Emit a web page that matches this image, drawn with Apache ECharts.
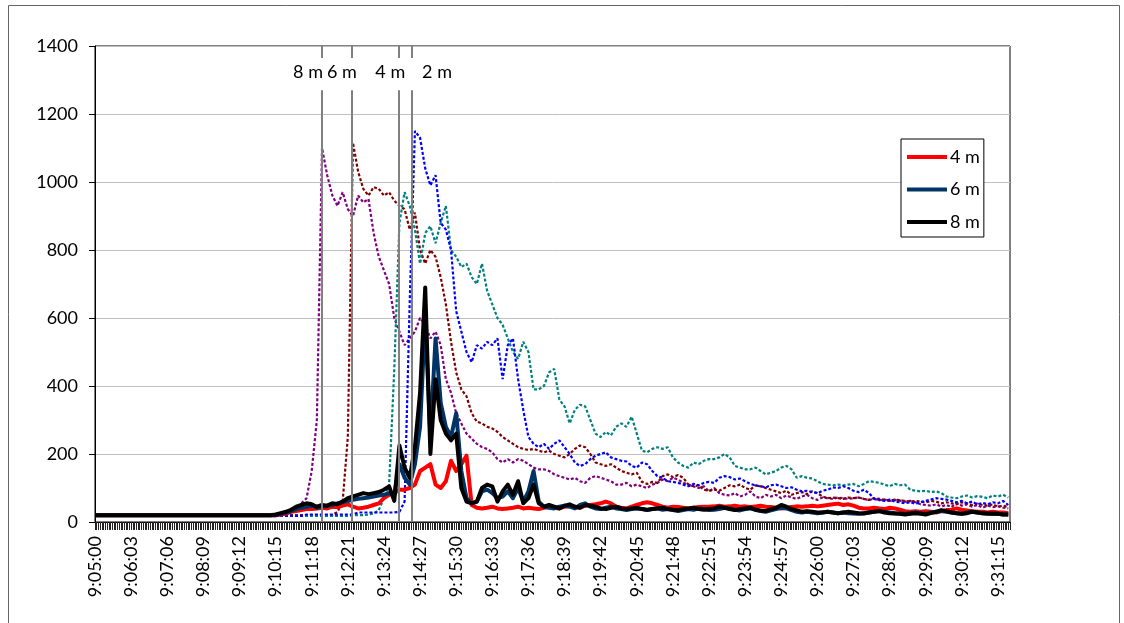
<!DOCTYPE html>
<html>
<head>
<meta charset="utf-8">
<title>Traces 2 m - 8 m</title>
<script src="https://cdn.jsdelivr.net/npm/echarts@6/dist/echarts.min.js"></script>
<style>
  html, body { margin: 0; padding: 0; background: #fff; }
  #chart { width: 1124px; height: 623px; }
</style>
</head>
<body>
<div id="chart"></div>
<script>
// sample times, seconds after 9:05:00, one every 9 s
const STEP = 9
const secs = Array.from({ length: 178 }, (_, i) => i * STEP)
const END_SEC = 1596
const LABEL_EVERY = 63

// dotted traces (not in legend)
const dot8 = [
  18, 18, 18, 18, 18, 18, 18, 18, 18, 18,
  18, 18, 18, 18, 18, 18, 18, 18, 18, 18,
  18, 18, 18, 18, 18, 18, 18, 18, 18, 18,
  18, 18, 18, 18, 18, 20, 22, 25, 30, 40,
  55, 70, 150, 300, 1100, 1020, 960, 930, 970, 920,
  900, 960, 940, 950, 850, 780, 740, 700, 600, 560,
  520, 540, 560, 600, 580, 540, 560, 520, 420, 380,
  320, 290, 260, 245, 230, 220, 215, 205, 185, 175,
  185, 175, 185, 180, 170, 160, 155, 155, 150, 140,
  135, 130, 125, 130, 120, 115, 130, 135, 130, 125,
  120, 110, 110, 115, 105, 110, 105, 100, 110, 115,
  125, 120, 130, 125, 115, 110, 105, 100, 105, 90,
  100, 85, 80, 78, 85, 75, 80, 90, 75, 70,
  80, 75, 80, 70, 78, 72, 68, 75, 80, 70,
  65, 72, 70, 68, 72, 70, 68, 70, 72, 68,
  65, 68, 64, 66, 62, 65, 63, 60, 62, 58,
  52, 50, 48, 52, 46, 50, 44, 55, 48, 52,
  45, 50, 42, 48, 44, 46, 42, 40
]
const dot6 = [
  18, 18, 18, 18, 18, 18, 18, 18, 18, 18,
  18, 18, 18, 18, 18, 18, 18, 18, 18, 18,
  18, 18, 18, 18, 18, 18, 18, 18, 18, 18,
  18, 18, 18, 18, 18, 18, 20, 20, 20, 20,
  20, 20, 20, 20, 20, 20, 20, 30, 60, 250,
  1115, 1030, 980, 960, 985, 980, 960, 970, 945, 930,
  920, 860, 910, 800, 760, 800, 780, 720, 640, 530,
  440, 390, 370, 320, 295, 290, 280, 275, 265, 250,
  240, 230, 220, 215, 212, 215, 210, 205, 210, 200,
  195, 190, 200, 215, 225, 220, 200, 175, 170, 165,
  170, 160, 150, 145, 140, 145, 118, 112, 118, 115,
  135, 140, 132, 138, 130, 110, 105, 108, 95, 92,
  95, 92, 100, 108, 105, 110, 100, 95, 108, 105,
  100, 95, 90, 85, 92, 80, 85, 88, 82, 90,
  85, 75, 70, 72, 70, 68, 72, 70, 72, 68,
  65, 70, 68, 65, 62, 66, 64, 62, 60, 62,
  60, 58, 62, 60, 55, 58, 55, 52, 58, 55,
  50, 54, 50, 48, 52, 45, 48, 44
]
const dot4 = [
  18, 18, 18, 18, 18, 18, 18, 18, 18, 18,
  18, 18, 18, 18, 18, 18, 18, 18, 18, 18,
  18, 18, 18, 18, 18, 18, 18, 18, 18, 18,
  18, 18, 18, 18, 18, 18, 18, 18, 18, 18,
  18, 18, 18, 18, 18, 18, 18, 18, 18, 18,
  20, 20, 20, 22, 25, 35, 70, 110, 450, 880,
  970, 930, 860, 760, 850, 870, 820, 880, 930, 800,
  780, 750, 760, 720, 700, 760, 680, 640, 600, 580,
  540, 500, 480, 530, 500, 390, 390, 400, 440, 450,
  360, 340, 290, 330, 345, 340, 300, 260, 250, 265,
  255, 280, 290, 280, 310, 260, 210, 205, 215, 220,
  215, 220, 190, 175, 165, 160, 175, 170, 180, 185,
  185, 190, 200, 190, 165, 160, 155, 155, 160, 150,
  140, 145, 150, 160, 165, 155, 130, 135, 130, 128,
  120, 112, 110, 108, 110, 108, 110, 112, 105, 112,
  120, 118, 115, 110, 105, 112, 108, 110, 95, 92,
  90, 92, 88, 90, 85, 75, 72, 70, 75, 78,
  72, 76, 74, 70, 78, 75, 80, 72
]
const dot2 = [
  18, 18, 18, 18, 18, 18, 18, 18, 18, 18,
  18, 18, 18, 18, 18, 18, 18, 18, 18, 18,
  18, 18, 18, 18, 18, 18, 18, 18, 18, 18,
  18, 18, 18, 18, 18, 18, 18, 18, 18, 18,
  18, 22, 22, 22, 22, 22, 22, 22, 22, 22,
  22, 28, 28, 28, 28, 28, 28, 28, 28, 30,
  60, 650, 1150, 1130, 1040, 990, 1020, 880, 860, 800,
  620, 560, 500, 470, 520, 510, 530, 520, 540, 420,
  520, 540, 420, 330, 250, 230, 220, 230, 215, 230,
  240, 220, 200, 175, 165, 170, 185, 195, 200, 205,
  190, 185, 180, 178, 165, 160, 175, 170, 150, 135,
  130, 120, 118, 115, 110, 105, 112, 108, 115, 118,
  115, 130, 135, 132, 125, 128, 120, 112, 108, 105,
  102, 108, 110, 105, 100, 102, 95, 90, 92, 88,
  85, 92, 95, 102, 100, 105, 100, 92, 88, 95,
  85, 68, 65, 62, 66, 60, 58, 55, 58, 54,
  58, 62, 66, 70, 68, 66, 62, 58, 62, 55,
  60, 52, 56, 52, 58, 55, 62, 50
]

// solid traces (legend)
const red4 = [
  20, 20, 20, 20, 20, 20, 20, 20, 20, 20,
  20, 20, 20, 20, 20, 20, 20, 20, 20, 20,
  20, 20, 20, 20, 20, 20, 20, 20, 20, 20,
  20, 20, 20, 20, 20, 20, 22, 25, 30, 32,
  35, 38, 38, 40, 42, 40, 45, 44, 48, 52,
  45, 40, 42, 45, 50, 55, 70, 80, 85, 95,
  95, 100, 110, 150, 160, 170, 110, 100, 120, 180,
  150, 170, 195, 50, 42, 40, 42, 45, 40, 38,
  40, 42, 45, 40, 42, 40, 38, 42, 45, 42,
  40, 45, 48, 45, 42, 48, 50, 52, 55, 60,
  55, 45, 42, 40, 45, 50, 55, 58, 55, 50,
  45, 42, 45, 44, 42, 40, 42, 44, 45, 45,
  46, 48, 45, 46, 48, 45, 46, 44, 46, 48,
  45, 44, 42, 40, 42, 44, 46, 45, 46, 48,
  46, 48, 50, 52, 54, 50, 52, 48, 42, 40,
  40, 42, 40, 38, 42, 40, 36, 32, 30, 32,
  30, 32, 30, 28, 32, 35, 36, 40, 36, 34,
  32, 30, 30, 28, 30, 28, 28, 26
]
const navy6 = [
  20, 20, 20, 20, 20, 20, 20, 20, 20, 20,
  20, 20, 20, 20, 20, 20, 20, 20, 20, 20,
  20, 20, 20, 20, 20, 20, 20, 20, 20, 20,
  20, 20, 20, 20, 20, 20, 24, 28, 32, 38,
  42, 45, 48, 42, 45, 48, 50, 55, 58, 62,
  65, 68, 70, 72, 75, 78, 80, 85, 80, 170,
  130, 110, 170, 280, 600, 250, 540, 350, 280, 250,
  320, 150, 70, 55, 60, 90, 95, 85, 70, 75,
  90, 70, 100, 60, 90, 150, 60, 45, 42, 40,
  45, 48, 45, 40, 50, 55, 45, 40, 38, 42,
  45, 40, 38, 35, 38, 40, 38, 35, 38, 40,
  36, 38, 35, 32, 35, 38, 36, 40, 38, 35,
  36, 38, 42, 40, 36, 34, 38, 40, 36, 32,
  30, 34, 38, 42, 40, 35, 30, 28, 30, 28,
  26, 28, 30, 28, 26, 28, 26, 25, 24, 26,
  28, 30, 32, 30, 28, 26, 25, 24, 26, 28,
  26, 24, 28, 30, 32, 30, 28, 26, 24, 28,
  30, 28, 26, 24, 25, 24, 22, 22
]
const black8 = [
  20, 20, 20, 20, 20, 20, 20, 20, 20, 20,
  20, 20, 20, 20, 20, 20, 20, 20, 20, 20,
  20, 20, 20, 20, 20, 20, 20, 20, 20, 20,
  20, 20, 20, 20, 20, 22, 26, 30, 36, 45,
  50, 55, 52, 45, 50, 48, 55, 52, 60, 70,
  75, 80, 85, 82, 85, 88, 95, 105, 62, 225,
  160, 130, 220, 380, 690, 200, 420, 300, 260, 240,
  260, 100, 60, 55, 60, 100, 110, 105, 60, 90,
  110, 80, 120, 55, 70, 110, 55, 45, 50, 45,
  40, 48, 52, 45, 42, 50, 48, 45, 40, 38,
  42, 45, 40, 38, 40, 42, 38, 36, 38, 40,
  42, 38, 36, 35, 38, 40, 42, 38, 36, 38,
  40, 45, 42, 38, 35, 38, 40, 42, 36, 34,
  32, 38, 42, 50, 45, 38, 34, 30, 32, 30,
  28, 28, 30, 28, 26, 28, 30, 28, 26, 25,
  28, 30, 32, 28, 26, 25, 24, 22, 24, 26,
  24, 22, 26, 30, 35, 32, 28, 26, 24, 26,
  30, 28, 26, 25, 24, 24, 22, 22
]

// arrival markers
const markerNames = ['8 m', '6 m', '4 m', '2 m']
const markerSecs = [396, 448, 529, 553]

const yTicks = [0, 200, 400, 600, 800, 1000, 1200, 1400]

const FONT = 'Lato'

function clock(s) {
  const t = 9 * 3600 + 5 * 60 + Math.round(s)
  const h = Math.floor(t / 3600)
  const m = Math.floor((t % 3600) / 60)
  const sec = t % 60
  return h + ':' + String(m).padStart(2, '0') + ':' + String(sec).padStart(2, '0')
}

function pairs(vals) {
  return secs.map((t, i) => [t, vals[i]])
}

function dotted(name, vals, color) {
  return {
    name: name,
    type: 'line',
    data: pairs(vals),
    symbol: 'none',
    lineStyle: { color: color, width: 2.2, type: [3, 2] },
    itemStyle: { color: color },
    silent: true
  }
}

function solid(name, vals, color) {
  return {
    name: name,
    type: 'line',
    data: pairs(vals),
    symbol: 'none',
    lineStyle: { color: color, width: 4, join: 'round' },
    itemStyle: { color: color },
    silent: true
  }
}

const labelDx = [-14, -10, -8, 25]
const LINE_GAP_TOP = 1365
const LINE_GAP_BOTTOM = 1270
const LABEL_Y = 1324

const chart = echarts.init(document.getElementById('chart'))

chart.setOption({
  animation: false,
  backgroundColor: '#fff',
  textStyle: { fontFamily: FONT },
  graphic: [{
    type: 'rect',
    shape: { x: 8.5, y: 5.5, width: 1111, height: 700 },
    style: { fill: 'none', stroke: '#666', lineWidth: 1 },
    silent: true,
    z: -10
  }],
  grid: {
    left: 95,
    right: 114,
    top: 46,
    bottom: 101,
    show: true,
    borderColor: '#000',
    borderWidth: 1,
    outerBoundsMode: 'none'
  },
  legend: {
    data: ['4 m', '6 m', '8 m'],
    orient: 'vertical',
    left: 901,
    top: 139,
    padding: [9, 4, 6, 6],
    itemGap: 14.5,
    itemWidth: 40,
    itemHeight: 4,
    icon: 'rect',
    backgroundColor: '#fff',
    borderColor: '#000',
    borderWidth: 1,
    borderRadius: 0,
    selectedMode: false,
    textStyle: { fontFamily: FONT, fontSize: 18, color: '#000', lineHeight: 18, padding: [0, 0, 0, -2] }
  },
  xAxis: [{
    type: 'value',
    min: 0,
    max: END_SEC,
    interval: LABEL_EVERY,
    axisLine: { show: true, lineStyle: { color: '#000', width: 1 } },
    axisTick: { show: true, length: 8, lineStyle: { color: '#000' } },
    splitLine: { show: false },
    axisLabel: {
      rotate: 90,
      margin: 14,
      fontFamily: FONT,
      fontSize: 18,
      color: '#000',
      showMaxLabel: false,
      formatter: clock
    }
  }, {
    // dense tick band, one tick per 3 s sample of the logger
    type: 'value',
    position: 'bottom',
    min: 0,
    max: END_SEC,
    interval: 3,
    axisLine: { show: false },
    axisTick: { show: true, length: 8, lineStyle: { color: '#222', width: 1 } },
    axisLabel: { show: false },
    splitLine: { show: false }
  }],
  yAxis: {
    type: 'value',
    min: yTicks[0],
    max: yTicks[yTicks.length - 1],
    interval: yTicks[1] - yTicks[0],
    axisLine: { show: true, lineStyle: { color: '#000', width: 1 } },
    axisTick: { show: true, length: 6, lineStyle: { color: '#000' } },
    splitLine: { show: true, lineStyle: { color: '#c0c0c0', width: 1 } },
    axisLabel: {
      margin: 17,
      fontFamily: FONT,
      fontSize: 18,
      color: '#000',
      formatter: v => String(v)
    }
  },
  series: [
    dotted('dot 8 m', dot8, '#800080'),
    dotted('dot 6 m', dot6, '#800000'),
    dotted('dot 4 m', dot4, '#008080'),
    dotted('dot 2 m', dot2, '#0000ff'),
    solid('4 m', red4, '#ff0000'),
    solid('6 m', navy6, '#003366'),
    solid('8 m', black8, '#000000'),
    {
      name: 'markers',
      type: 'scatter',
      symbolSize: 0,
      silent: true,
      z: 5,
      itemStyle: { opacity: 1, color: '#000' },
      data: markerSecs.map((t, i) => ({
        value: [t, LABEL_Y],
        label: { offset: [labelDx[i], 0] }
      })),
      label: {
        show: true,
        position: 'inside',
        formatter: p => markerNames[p.dataIndex],
        fontFamily: FONT,
        fontSize: 18,
        color: '#000',
        opacity: 1,
        textBorderWidth: 0
      },
      markLine: {
        silent: true,
        symbol: 'none',
        label: { show: false },
        lineStyle: { color: '#808080', width: 2, type: 'solid', opacity: 1 },
        data: markerSecs.flatMap(t => [
          [{ coord: [t, yTicks[yTicks.length - 1]] }, { coord: [t, LINE_GAP_TOP] }],
          [{ coord: [t, LINE_GAP_BOTTOM] }, { coord: [t, 0] }]
        ])
      }
    }
  ]
})
</script>
</body>
</html>
